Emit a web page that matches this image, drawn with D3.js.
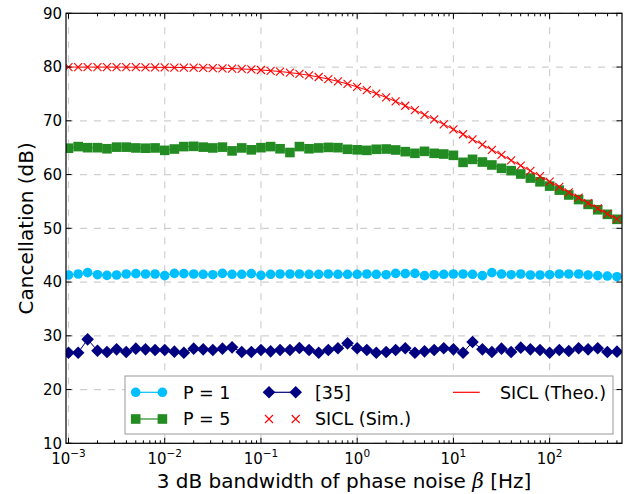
<!DOCTYPE html>
<html>
<head>
<meta charset="utf-8">
<script src="https://cdn.jsdelivr.net/npm/d3@7"></script>
<style>
  html, body { margin: 0; padding: 0; background: #fff; }
  svg { display: block; font-family: "DejaVu Sans", sans-serif; }
</style>
</head>
<body>
<svg id="chart" width="624" height="494"></svg>
<script>
// ---------------- data ----------------
const beta = [0.001, 0.00126, 0.00158, 0.002, 0.00251, 0.00316, 0.00398, 0.00501, 0.00631, 0.00794,
  0.01, 0.0126, 0.0158, 0.02, 0.0251, 0.0316, 0.0398, 0.0501, 0.0631, 0.0794,
  0.1, 0.126, 0.158, 0.2, 0.251, 0.316, 0.398, 0.501, 0.631, 0.794,
  1, 1.26, 1.58, 2, 2.51, 3.16, 3.98, 5.01, 6.31, 7.94,
  10, 12.6, 15.8, 20, 25.1, 31.6, 39.8, 50.1, 63.1, 79.4,
  100, 126, 158, 200, 251, 316, 398, 501];

const p1 = [41.31, 41.5, 41.75, 41.37, 41.25, 41.31, 41.5, 41.56, 41.5, 41.5,
  41.19, 41.62, 41.56, 41.5, 41.44, 41.37, 41.62, 41.44, 41.44, 41.56,
  41.25, 41.44, 41.5, 41.5, 41.5, 41.44, 41.44, 41.5, 41.44, 41.44,
  41.44, 41.5, 41.44, 41.37, 41.62, 41.56, 41.62, 41.19, 41.37, 41.44,
  41.5, 41.5, 41.44, 41.19, 41.75, 41.5, 41.37, 41.5, 41.31, 41.31,
  41.37, 41.5, 41.5, 41.5, 41.31, 41.19, 41.12, 41.0];

const p5 = [64.9, 65.2, 65.0, 65.0, 64.8, 65.1, 65.1, 64.95, 64.9, 64.95,
  64.5, 64.75, 65.2, 65.25, 65.1, 64.95, 65.1, 64.4, 64.95, 64.6,
  65.0, 65.2, 64.8, 64.1, 65.2, 64.8, 64.95, 65.05, 65.0, 64.7,
  64.6, 64.5, 64.7, 64.75, 64.57, 64.26, 63.95, 64.32, 63.95, 63.82,
  63.58, 62.27, 62.83, 62.33, 61.78, 61.16, 60.72, 60.1, 59.35, 58.65,
  57.85, 57.1, 56.2, 55.35, 54.45, 53.45, 52.6, 51.67];

const ref35 = [26.86, 26.86, 29.34, 27.23, 26.99, 27.48, 26.99, 27.61, 27.48, 27.36,
  27.36, 27.05, 26.86, 27.61, 27.48, 27.36, 27.61, 27.85, 26.99, 26.99,
  27.36, 27.11, 27.36, 27.36, 27.73, 27.36, 26.86, 27.36, 27.67, 28.6,
  27.67, 27.36, 26.86, 26.99, 27.36, 27.67, 26.86, 27.11, 27.36, 27.67,
  27.48, 26.86, 28.85, 27.48, 26.99, 27.61, 26.99, 27.8, 27.48, 27.36,
  26.86, 27.36, 27.17, 27.67, 27.48, 27.67, 26.99, 27.05];

const siclSim = [80.0, 80.0, 80.0, 80.0, 80.0, 80.0, 80.0, 80.0, 79.95, 79.95,
  79.95, 79.9, 79.9, 79.9, 79.85, 79.8, 79.75, 79.7, 79.65, 79.55,
  79.45, 79.3, 79.15, 78.95, 78.75, 78.45, 78.15, 77.75, 77.35, 76.85,
  76.3, 75.7, 75.05, 74.35, 73.6, 72.8, 72.0, 71.1, 70.25, 69.35,
  68.4, 67.5, 66.55, 65.55, 64.6, 63.65, 62.65, 61.65, 60.7, 59.7,
  58.7, 57.7, 56.7, 55.7, 54.7, 53.7, 52.7, 51.7];

const siclTheo = [80.0, 79.99, 79.99, 79.99, 79.99, 79.98, 79.98, 79.97, 79.96, 79.95,
  79.94, 79.93, 79.91, 79.89, 79.86, 79.82, 79.77, 79.72, 79.65, 79.56,
  79.45, 79.32, 79.16, 78.97, 78.74, 78.47, 78.14, 77.77, 77.34, 76.85,
  76.31, 75.71, 75.05, 74.35, 73.60, 72.81, 71.98, 71.13, 70.24, 69.34,
  68.42, 67.48, 66.53, 65.57, 64.60, 63.63, 62.65, 61.66, 60.68, 59.69,
  58.70, 57.70, 56.71, 55.71, 54.72, 53.72, 52.72, 51.72];

const yTicks = [10, 20, 30, 40, 50, 60, 70, 80, 90];
const xTickExps = [-3, -2, -1, 0, 1, 2];
const legendLabels = ["P = 1", "P = 5", "[35]", "SICL (Sim.)", "SICL (Theo.)"];

// ---------------- layout ----------------
const svg = d3.select("#chart");
const L = 66, R = 622, T = 13.3, B = 443.3;
const x = d3.scaleLog().domain([Math.pow(10, -3.026), Math.pow(10, 2.752)]).range([L, R]);
const y = d3.scaleLinear().domain([10, 90]).range([B, T]);

const gridColor = "#d0d0d0";
// grid
const grid = svg.append("g");
xTickExps.forEach(e => {
  grid.append("line").attr("x1", x(Math.pow(10, e))).attr("x2", x(Math.pow(10, e)))
    .attr("y1", T).attr("y2", B).attr("stroke", gridColor).attr("stroke-width", 1.2)
    .attr("stroke-dasharray", "7,7");
});
yTicks.forEach(v => {
  grid.append("line").attr("x1", L).attr("x2", R).attr("y1", y(v)).attr("y2", y(v))
    .attr("stroke", gridColor).attr("stroke-width", 1.2).attr("stroke-dasharray", "7,7");
});

svg.append("clipPath").attr("id", "clip").append("rect")
  .attr("x", L).attr("y", T).attr("width", R - L).attr("height", B - T);
const plot = svg.append("g").attr("clip-path", "url(#clip)");

const pts = arr => arr.map((v, i) => [beta[i], v]);
const line = d3.line().x(d => x(d[0])).y(d => y(d[1]));

const cCyan = "#00bfff", cGreen = "#228b22", cNavy = "#000080", cRed = "#ff0000";

function drawMarker(g, type, cx, cy, color) {
  if (type === "circle") {
    g.append("circle").attr("cx", cx).attr("cy", cy).attr("r", 4.8).attr("fill", color);
  } else if (type === "square") {
    g.append("rect").attr("x", cx - 4.8).attr("y", cy - 4.8).attr("width", 9.6).attr("height", 9.6).attr("fill", color);
  } else if (type === "diamond") {
    const s = 6.3;
    g.append("path").attr("d", `M${cx},${cy - s}L${cx + s},${cy}L${cx},${cy + s}L${cx - s},${cy}Z`).attr("fill", color);
  } else if (type === "x") {
    const s = 4;
    g.append("path").attr("d", `M${cx - s},${cy - s}L${cx + s},${cy + s}M${cx - s},${cy + s}L${cx + s},${cy - s}`)
      .attr("stroke", color).attr("stroke-width", 1.1).attr("fill", "none");
  }
}

function series(arr, color, type, withLine) {
  const g = plot.append("g");
  const d = pts(arr);
  if (withLine) g.append("path").attr("d", line(d)).attr("fill", "none").attr("stroke", color).attr("stroke-width", 1);
  if (type) d.forEach(p => drawMarker(g, type, x(p[0]), y(p[1]), color));
}

series(p1, cCyan, "circle", true);
series(p5, cGreen, "square", true);
series(ref35, cNavy, "diamond", true);
series(siclSim, cRed, "x", false);
series(siclTheo, cRed, null, true);

// ---------------- axes ----------------
const ax = svg.append("g");
ax.append("rect").attr("x", L).attr("y", T).attr("width", R - L).attr("height", B - T)
  .attr("fill", "none").attr("stroke", "#000").attr("stroke-width", 1.2);

yTicks.forEach(v => {
  const yy = y(v);
  ax.append("line").attr("x1", L).attr("x2", L + 5.5).attr("y1", yy).attr("y2", yy).attr("stroke", "#000");
  ax.append("line").attr("x1", R).attr("x2", R - 5.5).attr("y1", yy).attr("y2", yy).attr("stroke", "#000");
  ax.append("text").attr("x", L - 4).attr("y", yy).attr("dy", "0.36em").attr("text-anchor", "end")
    .attr("font-size", 15).attr("fill", "#000").text(v);
});

const [d0, d1] = x.domain();
xTickExps.forEach(e => {
  const xx = x(Math.pow(10, e));
  ax.append("line").attr("x1", xx).attr("x2", xx).attr("y1", B).attr("y2", B - 5.5).attr("stroke", "#000");
  ax.append("line").attr("x1", xx).attr("x2", xx).attr("y1", T).attr("y2", T + 5.5).attr("stroke", "#000");
  const t = ax.append("text").attr("x", xx).attr("y", B + 20.5).attr("text-anchor", "middle").attr("fill", "#000");
  t.append("tspan").attr("font-size", 15).text("10");
  t.append("tspan").attr("font-size", 10.5).attr("dy", -7).text(e < 0 ? "\u2212" + Math.abs(e) : String(e));
});
for (let e = -4; e <= 3; e++) {
  for (let k = 2; k <= 9; k++) {
    const v = k * Math.pow(10, e);
    if (v <= d0 || v >= d1) continue;
    const xx = x(v);
    ax.append("line").attr("x1", xx).attr("x2", xx).attr("y1", B).attr("y2", B - 3).attr("stroke", "#000");
    ax.append("line").attr("x1", xx).attr("x2", xx).attr("y1", T).attr("y2", T + 3).attr("stroke", "#000");
  }
}

// axis labels
const xl = svg.append("text").attr("x", (L + R) / 2).attr("y", 488).attr("text-anchor", "middle")
  .attr("font-size", 20).attr("fill", "#000");
xl.append("tspan").text("3 dB bandwidth of phase noise ");
xl.append("tspan").attr("font-style", "italic").attr("font-family", "DejaVu Serif").text("\u03b2");
xl.append("tspan").text(" [Hz]");

svg.append("text").attr("transform", `translate(33,${(T + B) / 2}) rotate(-90)`)
  .attr("text-anchor", "middle").attr("font-size", 20).attr("fill", "#000").text("Cancellation (dB)");

// ---------------- legend ----------------
const lg = svg.append("g");
lg.append("rect").attr("x", 125).attr("y", 376).attr("width", 488).attr("height", 58)
  .attr("fill", "#fff").attr("stroke", "#999").attr("stroke-width", 1);
const legendItems = [
  { label: legendLabels[0], color: cCyan, type: "circle", line: true, col: 0, row: 0 },
  { label: legendLabels[1], color: cGreen, type: "square", line: true, col: 0, row: 1 },
  { label: legendLabels[2], color: cNavy, type: "diamond", line: true, col: 1, row: 0 },
  { label: legendLabels[3], color: cRed, type: "x", line: false, col: 1, row: 1 },
  { label: legendLabels[4], color: cRed, type: null, line: true, col: 2, row: 0 }
];
const colX = [135.7, 269, 453];
const colText = [183, 315, 500];
const rowY = [392.3, 419];
legendItems.forEach(it => {
  const x0 = colX[it.col], x1 = x0 + 26.7, yy = rowY[it.row];
  if (it.line) lg.append("line").attr("x1", x0).attr("x2", x1).attr("y1", yy).attr("y2", yy)
    .attr("stroke", it.color).attr("stroke-width", 1.2);
  if (it.type) { drawMarker(lg, it.type, x0, yy, it.color); drawMarker(lg, it.type, x1, yy, it.color); }
  lg.append("text").attr("x", colText[it.col]).attr("y", yy).attr("dy", "0.36em")
    .attr("font-size", 17.5).attr("fill", "#000").text(it.label);
});
</script>
</body>
</html>
